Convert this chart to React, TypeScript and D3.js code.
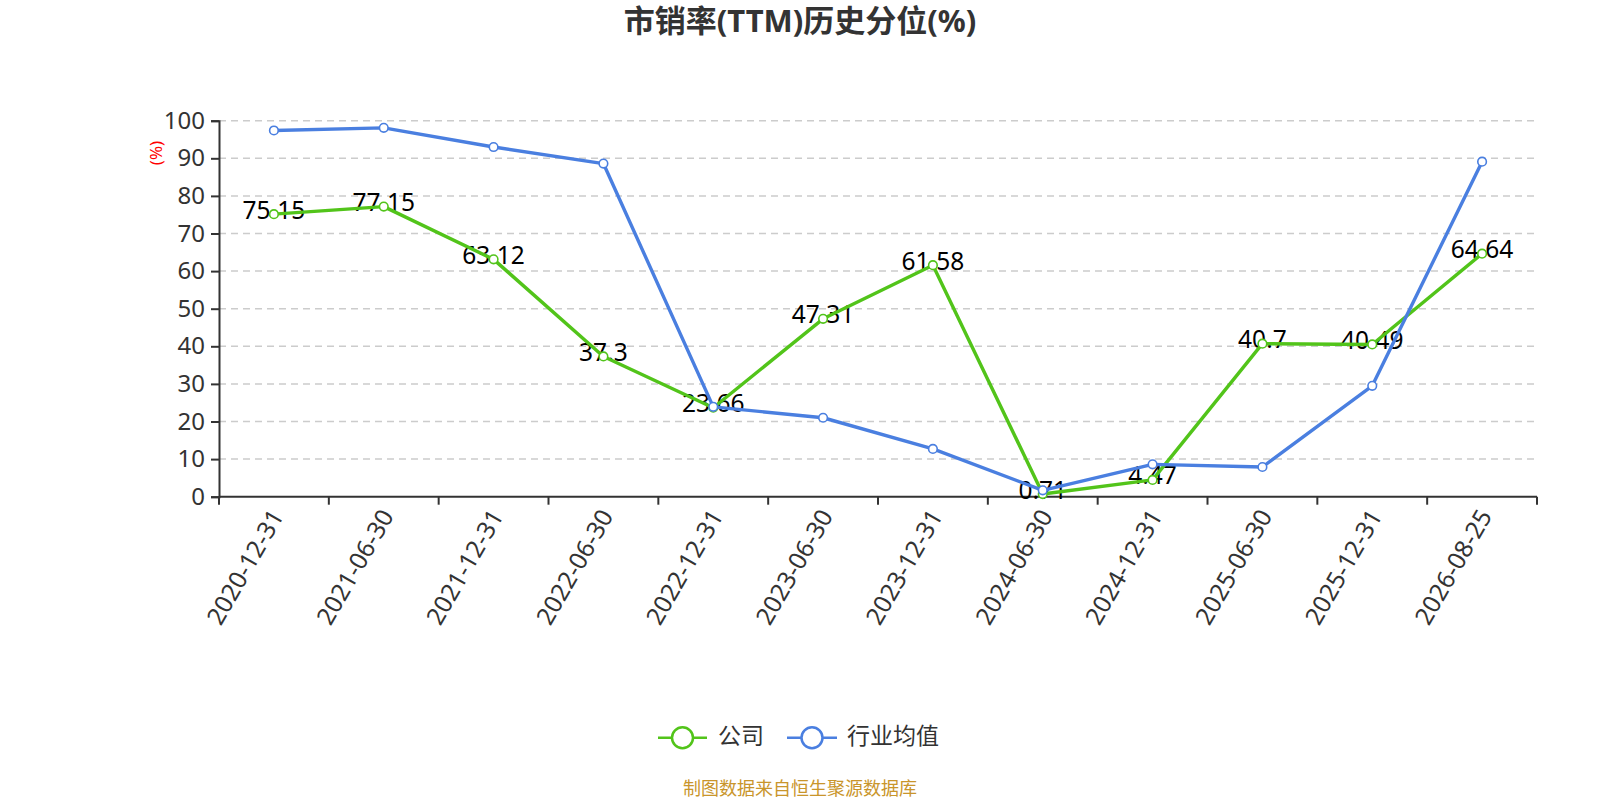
import React, { useEffect, useRef } from "react";
import * as d3 from "d3";

const categories = [
  "2020-12-31", "2021-06-30", "2021-12-31", "2022-06-30", "2022-12-31", "2023-06-30",
  "2023-12-31", "2024-06-30", "2024-12-31", "2025-06-30", "2025-12-31", "2026-08-25",
];
const companyValues = [75.15, 77.15, 63.12, 37.3, 23.66, 47.31, 61.58, 0.71, 4.47, 40.7, 40.49, 64.64];
const industryValues = [97.4, 98.1, 93.0, 88.6, 23.9, 21.0, 12.7, 1.7, 8.6, 7.9, 29.5, 89.1];
const yTicks = [0, 10, 20, 30, 40, 50, 60, 70, 80, 90, 100];

const GREEN = "#52c41a";
const BLUE = "#4a7fe0";
const FONT = "'Noto Sans', 'Noto Sans CJK SC', sans-serif";

const App: React.FC = () => {
  const svgRef = useRef<SVGSVGElement>(null);

  useEffect(() => {
    const W = 1600;
    const H = 800;
    const left = 219;
    const right = 1537;
    const top = 120.7;
    const bottom = 496.7;

    const svg = d3.select(svgRef.current);
    svg.selectAll("*").remove();
    svg.attr("width", W).attr("height", H).style("font-family", FONT);

    const x = d3.scaleBand<string>().domain(categories).range([left, right]);
    const y = d3.scaleLinear().domain([0, 100]).range([bottom, top]);
    const cx = (c: string) => (x(c) as number) + x.bandwidth() / 2;

    // title
    svg.append("text")
      .attr("x", 800).attr("y", 24)
      .attr("text-anchor", "middle").attr("dominant-baseline", "middle")
      .attr("font-size", 31).attr("font-weight", "bold").attr("fill", "#333")
      .text("市销率(TTM)历史分位(%)");

    // grid
    svg.append("g").selectAll("line")
      .data(yTicks.filter((t) => t > 0))
      .join("line")
      .attr("x1", left).attr("x2", right)
      .attr("y1", (d) => y(d)).attr("y2", (d) => y(d))
      .attr("stroke", "#ccc").attr("stroke-width", 1.5)
      .attr("stroke-dasharray", "7 5");

    // y axis
    const yAxis = svg.append("g").attr("transform", `translate(${left},0)`)
      .call(d3.axisLeft(y).tickValues(yTicks).tickSize(8).tickPadding(6));
    yAxis.select(".domain").attr("stroke", "#333").attr("stroke-width", 2);
    yAxis.selectAll(".tick line").attr("stroke", "#333").attr("stroke-width", 2);
    yAxis.selectAll(".tick text")
      .attr("font-size", 24).attr("fill", "#333").attr("font-family", FONT);

    svg.append("text")
      .attr("transform", `translate(157,153) rotate(-90)`)
      .attr("text-anchor", "middle").attr("dominant-baseline", "middle")
      .attr("font-size", 17).attr("fill", "red")
      .text("(%)");

    // x axis
    const xAxis = svg.append("g").attr("transform", `translate(0,${bottom})`);
    xAxis.append("line")
      .attr("x1", left).attr("x2", right)
      .attr("stroke", "#333").attr("stroke-width", 2);
    xAxis.selectAll("line.tick")
      .data(d3.range(categories.length + 1))
      .join("line").attr("class", "tick")
      .attr("x1", (i) => left + i * x.step()).attr("x2", (i) => left + i * x.step())
      .attr("y1", 0).attr("y2", 8)
      .attr("stroke", "#333").attr("stroke-width", 2);
    xAxis.selectAll("text")
      .data(categories)
      .join("text")
      .attr("transform", (c) => `translate(${cx(c) + 5},16) rotate(-60)`)
      .attr("text-anchor", "end").attr("dominant-baseline", "middle")
      .attr("font-size", 24.5).attr("fill", "#333")
      .text((c) => c);

    const line = d3.line<number>()
      .x((_, i) => cx(categories[i]))
      .y((d) => y(d));

    // company labels
    svg.append("g").selectAll("text")
      .data(companyValues)
      .join("text")
      .attr("x", (_, i) => cx(categories[i]))
      .attr("y", (d) => y(d) - 2)
      .attr("text-anchor", "middle").attr("dominant-baseline", "middle")
      .attr("font-size", 24.5).attr("fill", "#000")
      .text((d) => String(d));

    const series = [
      { values: companyValues, color: GREEN },
      { values: industryValues, color: BLUE },
    ];
    series.forEach((s) => {
      svg.append("path")
        .datum(s.values)
        .attr("d", line)
        .attr("fill", "none").attr("stroke", s.color).attr("stroke-width", 3.4)
        .attr("stroke-linejoin", "round");
    });
    series.forEach((s) => {
      svg.append("g").selectAll("circle")
        .data(s.values)
        .join("circle")
        .attr("cx", (_, i) => cx(categories[i]))
        .attr("cy", (d) => y(d))
        .attr("r", 4.3)
        .attr("fill", "#fff").attr("stroke", s.color).attr("stroke-width", 1.6);
    });

    // legend
    const legend = [
      { name: "公司", color: GREEN, x0: 658, x1: 707, tx: 718 },
      { name: "行业均值", color: BLUE, x0: 787, x1: 837, tx: 847 },
    ];
    const lg = svg.append("g");
    legend.forEach((l) => {
      const ly = 737.7;
      lg.append("line")
        .attr("x1", l.x0).attr("x2", l.x1).attr("y1", ly).attr("y2", ly)
        .attr("stroke", l.color).attr("stroke-width", 2.5);
      lg.append("circle")
        .attr("cx", (l.x0 + l.x1) / 2).attr("cy", ly).attr("r", 10.5)
        .attr("fill", "#fff").attr("stroke", l.color).attr("stroke-width", 2.5);
      lg.append("text")
        .attr("x", l.tx).attr("y", ly)
        .attr("dominant-baseline", "middle")
        .attr("font-size", 23).attr("fill", "#333")
        .text(l.name);
    });

    svg.append("text")
      .attr("x", 800).attr("y", 790)
      .attr("text-anchor", "middle").attr("dominant-baseline", "middle")
      .attr("font-size", 18).attr("fill", "#c9952b")
      .text("制图数据来自恒生聚源数据库");
  }, []);

  return (
    <div style={{ position: "absolute", left: 0, top: 0, background: "#fff" }}>
      <svg ref={svgRef} style={{ display: "block" }} />
    </div>
  );
};

export default App;
